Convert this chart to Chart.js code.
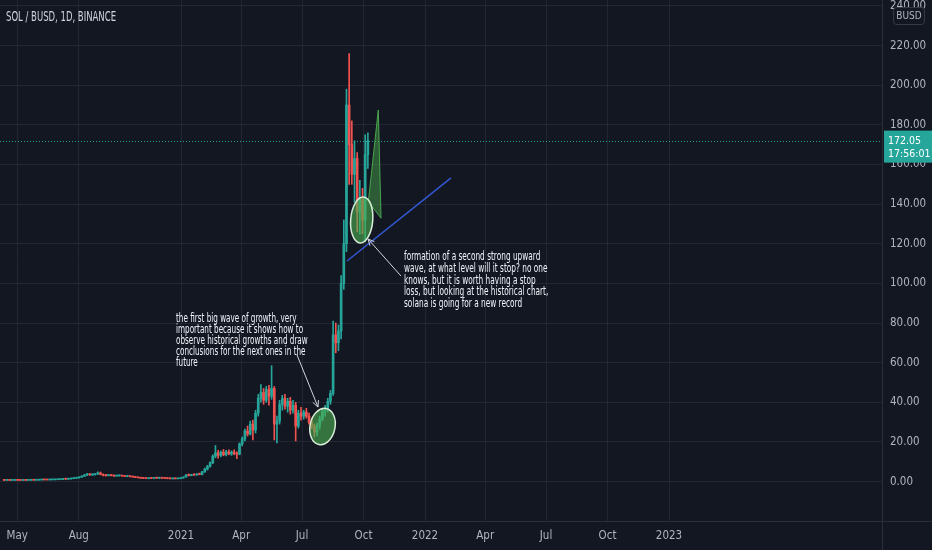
<!DOCTYPE html>
<html>
<head>
<meta charset="utf-8">
<script src="https://cdn.jsdelivr.net/npm/chart.js@4"></script>
<style>
html, body { margin: 0; padding: 0; background: #131722; }
canvas { display: block; }
</style>
</head>
<body>
<canvas id="grafico" width="932" height="550"></canvas>
<script>
// SOL / BUSD, 4-day candles; day 0 = 1 Jan 2021
let primeiroDia = -264.5;
let passoDias = 4;

let abertura = [
  0.95, 0.62, 0.65, 0.60, 0.63, 0.66, 0.62, 0.60, 0.64, 0.62,
  0.66, 0.70, 0.68, 0.72, 0.80, 0.88, 0.85, 0.82, 0.88, 0.90,
  0.95, 1.00, 1.10, 1.25, 1.20, 1.35, 1.50, 1.70, 1.85, 2.30,
  2.70, 3.30, 3.80, 3.40, 3.50, 3.80, 4.40, 3.60, 3.10, 3.00,
  3.20, 3.00, 2.80, 2.90, 3.00, 2.80, 2.60, 2.70, 2.50, 2.30,
  2.10, 1.90, 1.70, 1.60, 1.50, 1.70, 1.60, 1.90, 1.70, 1.80,
  1.70, 1.60, 1.50, 1.40, 1.60, 1.40, 1.50, 1.80, 2.30, 3.30,
  3.00, 3.50, 3.30, 3.80, 3.60, 4.90, 6.30, 7.60, 9.50, 12.8,
  14.5, 13.2, 14.8, 13.6, 15.0, 14.0, 14.8, 14.2, 13.8, 19.0,
  21.5, 25.5, 24.0, 29.0, 26.0, 34.5, 42.0, 45.0, 41.0, 46.5,
  43.0, 47.0, 29.0, 30.5, 39.0, 42.0, 38.0, 40.5, 36.0, 38.5,
  28.0, 34.5, 33.0, 35.0, 33.0, 30.0, 28.0, 25.0, 28.5, 31.5,
  35.5, 36.5, 40.5, 44.5, 74.0, 70.0, 76.0, 100, 120, 190,
  170, 155, 163, 136, 143, 132, 165
];
let maxima = [
  1.00, 0.70, 0.72, 0.68, 0.70, 0.75, 0.70, 0.68, 0.72, 0.70,
  0.75, 0.80, 0.78, 0.85, 0.95, 1.00, 0.95, 0.92, 1.00, 1.00,
  1.10, 1.20, 1.35, 1.50, 1.40, 1.60, 1.80, 2.00, 2.40, 2.90,
  3.60, 4.20, 4.00, 3.80, 4.00, 4.90, 4.80, 3.90, 3.50, 3.40,
  3.50, 3.30, 3.10, 3.20, 3.20, 3.00, 2.90, 2.90, 2.70, 2.50,
  2.30, 2.10, 1.90, 1.80, 1.80, 1.90, 2.00, 2.20, 2.00, 2.00,
  1.90, 1.80, 1.70, 1.70, 1.80, 1.60, 1.90, 2.40, 3.70, 3.90,
  3.70, 3.90, 4.00, 4.30, 5.20, 6.80, 8.20, 10.0, 13.5, 18.2,
  15.8, 15.5, 16.2, 15.8, 16.0, 15.5, 16.0, 15.0, 19.5, 22.5,
  26.5, 28.0, 30.5, 31.0, 36.0, 44.0, 49.0, 47.0, 48.0, 48.5,
  58.5, 48.0, 33.0, 41.0, 43.5, 44.0, 42.0, 42.5, 41.0, 40.0,
  36.0, 37.5, 36.0, 37.0, 34.5, 32.0, 29.0, 29.5, 33.0, 37.0,
  38.5, 42.0, 46.0, 81.0, 80.0, 79.0, 104, 132, 198, 216,
  182, 172, 166, 152, 148, 175, 176
];
let minima = [
  0.50, 0.55, 0.58, 0.55, 0.58, 0.60, 0.55, 0.56, 0.60, 0.57,
  0.60, 0.64, 0.62, 0.66, 0.75, 0.80, 0.78, 0.76, 0.82, 0.82,
  0.88, 0.95, 1.00, 1.10, 1.05, 1.25, 1.40, 1.55, 1.75, 2.10,
  2.50, 3.00, 3.10, 3.00, 3.20, 3.60, 3.40, 2.80, 2.70, 2.80,
  2.90, 2.60, 2.60, 2.70, 2.70, 2.50, 2.40, 2.40, 2.20, 2.00,
  1.80, 1.60, 1.50, 1.40, 1.40, 1.50, 1.50, 1.60, 1.50, 1.60,
  1.50, 1.40, 1.30, 1.30, 1.30, 1.30, 1.40, 1.70, 2.20, 2.80,
  2.90, 3.10, 3.20, 3.40, 3.40, 4.60, 5.80, 7.20, 9.00, 12.0,
  11.8, 12.5, 13.0, 13.0, 13.5, 13.2, 13.5, 11.5, 13.5, 18.0,
  20.5, 23.0, 23.5, 21.0, 24.5, 33.0, 40.0, 39.0, 40.0, 38.5,
  41.5, 21.0, 19.5, 29.0, 36.0, 36.5, 35.0, 34.0, 34.5, 20.5,
  27.0, 31.0, 31.5, 32.0, 29.0, 26.5, 22.5, 23.0, 26.5, 30.5,
  33.0, 35.0, 39.0, 43.5, 65.0, 66.0, 72.0, 97.0, 116, 150,
  150, 141, 126, 125, 125, 121, 158
];
let fechamento = [
  0.62, 0.65, 0.60, 0.63, 0.66, 0.62, 0.60, 0.64, 0.62, 0.66,
  0.70, 0.68, 0.72, 0.80, 0.88, 0.85, 0.82, 0.88, 0.90, 0.95,
  1.00, 1.10, 1.25, 1.20, 1.35, 1.50, 1.70, 1.85, 2.30, 2.70,
  3.30, 3.80, 3.40, 3.50, 3.80, 4.40, 3.60, 3.10, 3.00, 3.20,
  3.00, 2.80, 2.90, 3.00, 2.80, 2.60, 2.70, 2.50, 2.30, 2.10,
  1.90, 1.70, 1.60, 1.50, 1.70, 1.60, 1.90, 1.70, 1.80, 1.70,
  1.60, 1.50, 1.40, 1.60, 1.40, 1.50, 1.80, 2.30, 3.30, 3.00,
  3.50, 3.30, 3.80, 3.60, 4.90, 6.30, 7.60, 9.50, 12.8, 14.5,
  13.2, 14.8, 13.6, 15.0, 14.0, 14.8, 14.2, 13.8, 19.0, 21.5,
  25.5, 24.0, 29.0, 26.0, 34.5, 42.0, 45.0, 41.0, 46.5, 43.0,
  47.0, 29.0, 30.5, 39.0, 42.0, 38.0, 40.5, 36.0, 38.5, 28.0,
  34.5, 33.0, 35.0, 33.0, 30.0, 28.0, 25.0, 28.5, 31.5, 35.5,
  36.5, 40.5, 44.5, 74.0, 70.0, 76.0, 100, 120, 190, 170,
  155, 163, 136, 143, 132, 165, 172.05
];

let marcasDias = [-245, -153, 0, 90, 181, 273, 365, 455, 546, 638, 730];
let marcasRotulos = ["May", "Aug", "2021", "Apr", "Jul", "Oct", "2022", "Apr", "Jul", "Oct", "2023"];
let precosMarcas = [0, 20, 40, 60, 80, 100, 120, 140, 160, 180, 200, 220, 240];

let ultimoPreco = 172.05;
let relogio = "17:56:01";
let titulo = "SOL / BUSD, 1D, BINANCE";

let notaOnda1 = [
  "the first big wave of growth, very",
  "important because it shows how to",
  "observe historical growths and draw",
  "conclusions for the next ones in the",
  "future"
];
let notaOnda2 = [
  "formation of a second strong upward",
  "wave, at what level will it stop? no one",
  "knows, but it is worth having a stop",
  "loss, but looking at the historical chart,",
  "solana is going for a new record"
];

// drawings, in [day, price]
let linhaAzul = [[248.3, 111.3], [403.9, 153.2]];
let triangulo = [[280.2, 141.2], [295.1, 187.5], [299.2, 132.9]];
let elipses = [
  { d: 270.3, p: 132.0, rd: 16.5, rp: 11.6, rot: 0.08 },
  { d: 211.7, p: 27.8, rd: 18.7, rp: 9.3, rot: 0.2 }
];
let setas = [
  [[173.5, 63.9], [204.9, 37.6]],
  [[329.1, 103.7], [279.7, 122.4]]
];

let fonteEstreita = "'Liberation Sans Narrow', 'DejaVu Sans Condensed', 'Liberation Sans', sans-serif";
let corAlta = "#26a69a";
let corBaixa = "#ef5350";
let corTexto = "#b2b5be";
let corGrade = "rgba(42,46,57,0.7)";

let dias = abertura.map((_, i) => primeiroDia + i * passoDias);
let cores = fechamento.map((f, i) => f >= abertura[i] ? corAlta : corBaixa);
let pavios = dias.map((d, i) => ({ x: d, y: [minima[i], maxima[i]] }));
let corpos = dias.map((d, i) => ({ x: d, y: [abertura[i], fechamento[i]] }));

function escreverBloco(c, linhas, x0, y0, passo, larguraAlvo, linhaRef, tamanho) {
  c.font = tamanho + "px " + fonteEstreita;
  let sx = larguraAlvo / c.measureText(linhas[linhaRef]).width;
  linhas.forEach((t, i) => {
    c.save();
    c.translate(x0, y0 + i * passo);
    c.scale(sx, 1);
    c.fillText(t, 0, 0);
    c.restore();
  });
}

function seta(c, x1, y1, x2, y2) {
  c.beginPath();
  c.moveTo(x1, y1);
  c.lineTo(x2, y2);
  let a = Math.atan2(y2 - y1, x2 - x1);
  c.moveTo(x2 - 7 * Math.cos(a - 0.45), y2 - 7 * Math.sin(a - 0.45));
  c.lineTo(x2, y2);
  c.lineTo(x2 - 7 * Math.cos(a + 0.45), y2 - 7 * Math.sin(a + 0.45));
  c.stroke();
}

let fundo = {
  id: "fundo",
  beforeDraw(chart) {
    let c = chart.ctx;
    c.save();
    c.fillStyle = "#131722";
    c.fillRect(0, 0, chart.width, chart.height);
    c.restore();
  },
  beforeDatasetsDraw(chart) {
    let c = chart.ctx, area = chart.chartArea;
    let y = chart.scales.y.getPixelForValue(ultimoPreco);
    c.save();
    c.strokeStyle = corAlta;
    c.lineWidth = 1;
    c.setLineDash([1, 2]);
    c.beginPath();
    c.moveTo(area.left, Math.round(y) + 0.5);
    c.lineTo(area.right, Math.round(y) + 0.5);
    c.stroke();
    c.restore();
  }
};

let desenhos = {
  id: "desenhos",
  afterDatasetsDraw(chart) {
    let c = chart.ctx, area = chart.chartArea;
    let sx = chart.scales.x, sy = chart.scales.y;
    let px = d => sx.getPixelForValue(d);
    let py = p => sy.getPixelForValue(p);

    c.save();
    c.beginPath();
    c.rect(area.left, area.top, area.right - area.left, area.bottom - area.top);
    c.clip();

    // blue trend line
    c.strokeStyle = "#3358d4";
    c.lineWidth = 1.5;
    c.beginPath();
    c.moveTo(px(linhaAzul[0][0]), py(linhaAzul[0][1]));
    c.lineTo(px(linhaAzul[1][0]), py(linhaAzul[1][1]));
    c.stroke();

    // green projection
    c.fillStyle = "rgba(76,175,80,0.45)";
    c.strokeStyle = "rgba(76,175,80,0.9)";
    c.lineWidth = 1;
    c.beginPath();
    triangulo.forEach((v, i) => {
      if (i == 0) c.moveTo(px(v[0]), py(v[1]));
      else c.lineTo(px(v[0]), py(v[1]));
    });
    c.closePath();
    c.fill();
    c.stroke();

    // circles
    elipses.forEach(e => {
      let cx = px(e.d), cy = py(e.p);
      let rx = Math.abs(px(e.d + e.rd) - cx);
      let ry = Math.abs(py(e.p + e.rp) - cy);
      c.beginPath();
      c.ellipse(cx, cy, rx, ry, e.rot, 0, Math.PI * 2);
      c.fillStyle = "rgba(76,175,80,0.62)";
      c.fill();
      c.strokeStyle = "#d8ecd8";
      c.lineWidth = 1.5;
      c.stroke();
    });

    // arrows
    c.strokeStyle = "#d1d4dc";
    c.lineWidth = 1;
    setas.forEach(s => seta(c, px(s[0][0]), py(s[0][1]), px(s[1][0]), py(s[1][1])));

    // notes
    c.fillStyle = "#f0f3fa";
    c.textBaseline = "middle";
    escreverBloco(c, notaOnda1, px(-7.5), py(82.0), 11, 131.7, 2, 12.5);
    escreverBloco(c, notaOnda2, px(333.6), py(113.3), 11.7, 144.3, 3, 12.5);

    c.restore();

    // header
    c.save();
    c.fillStyle = "#d1d4dc";
    c.textBaseline = "middle";
    escreverBloco(c, [titulo], area.left + 6, 17, 0, 110, 0, 14);
    c.restore();

    // separators
    c.save();
    c.strokeStyle = "#2a2e39";
    c.lineWidth = 1;
    c.beginPath();
    c.moveTo(area.right + 0.5, 0);
    c.lineTo(area.right + 0.5, chart.height);
    c.moveTo(0, area.bottom + 0.5);
    c.lineTo(chart.width, area.bottom + 0.5);
    c.stroke();
    c.restore();
  },
  afterDraw(chart) {
    let c = chart.ctx, area = chart.chartArea;
    let y = chart.scales.y.getPixelForValue(ultimoPreco);
    c.save();
    // last price tag
    c.fillStyle = corAlta;
    c.fillRect(area.right + 2, y - 10, chart.width - area.right - 2, 32);
    c.fillStyle = "#ffffff";
    c.font = "10.5px " + fonteEstreita;
    c.textBaseline = "middle";
    c.fillText(ultimoPreco.toFixed(2), area.right + 6, y + 1);
    c.fillText(relogio, area.right + 6, y + 14);
    // currency box
    c.fillStyle = "#131722";
    c.strokeStyle = "#363a45";
    c.beginPath();
    c.roundRect(area.right + 11.5, 7.5, 31, 17, 3);
    c.fill();
    c.stroke();
    c.fillStyle = corTexto;
    c.textAlign = "center";
    c.font = "10px " + fonteEstreita;
    c.fillText("BUSD", area.right + 27, 16.5);
    c.restore();
  }
};

let ctx = document.getElementById("grafico").getContext("2d");

let grafico = new Chart(ctx, {
  type: "bar",
  data: {
    datasets: [
      {
        data: pavios,
        backgroundColor: cores,
        barThickness: 1,
        grouped: false,
        borderWidth: 0
      },
      {
        data: corpos,
        backgroundColor: cores,
        barThickness: 2,
        grouped: false,
        borderWidth: 0,
        minBarLength: 1
      }
    ]
  },
  options: {
    responsive: false,
    animation: false,
    layout: { padding: 0 },
    plugins: {
      legend: { display: false },
      tooltip: { enabled: false }
    },
    scales: {
      x: {
        type: "linear",
        min: -270.8,
        max: 1048.6,
        offset: false,
        grid: { color: corGrade, drawTicks: false, offset: false },
        border: { display: false },
        ticks: {
          color: corTexto,
          font: { family: fonteEstreita, size: 11.5 },
          padding: 8,
          maxRotation: 0,
          autoSkip: false,
          callback: v => marcasRotulos[marcasDias.indexOf(v)]
        },
        afterBuildTicks: s => { s.ticks = marcasDias.map(v => ({ value: v })); },
        afterFit: s => { s.height = 29; s.paddingLeft = 0; s.paddingRight = 0; }
      },
      y: {
        position: "right",
        min: -19.9,
        max: 243.0,
        grid: { color: corGrade, drawTicks: false },
        border: { display: false },
        ticks: {
          color: corTexto,
          font: { family: fonteEstreita, size: 11.5 },
          padding: 8,
          callback: v => v.toFixed(2)
        },
        afterBuildTicks: s => { s.ticks = precosMarcas.map(v => ({ value: v })); },
        afterFit: s => { s.width = 50; s.paddingTop = 0; s.paddingBottom = 0; }
      }
    }
  },
  plugins: [fundo, desenhos]
});
</script>
</body>
</html>
